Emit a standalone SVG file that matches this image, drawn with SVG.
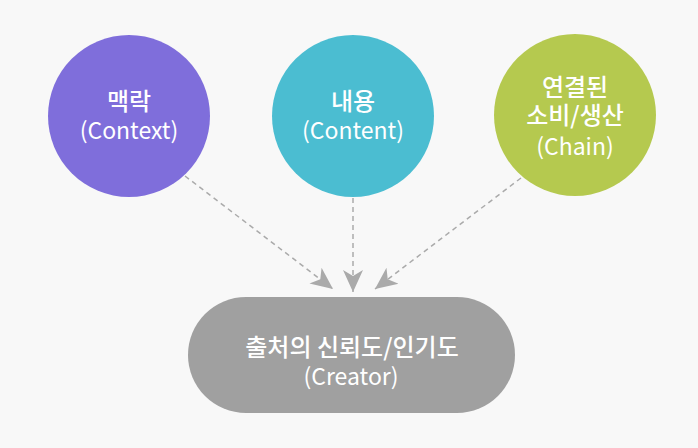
<svg xmlns="http://www.w3.org/2000/svg" width="698" height="448" viewBox="0 0 698 448">
<defs>
<style>
.t{font-family:"Noto Sans CJK KR","Noto Sans",sans-serif;fill:#fff;text-anchor:middle}
.k{font-size:24px;font-weight:500}
.e{font-size:23px;font-weight:400}
.c{fill:none;stroke:#aaaaaa;stroke-width:1.5;stroke-dasharray:5 4}
</style>
<marker id="ah" markerUnits="userSpaceOnUse" markerWidth="24" markerHeight="24" viewBox="0 0 24 24" refX="22" refY="12" orient="auto">
<path d="M0,2 L22,12 L0,22 L6,12 Z" fill="#aaaaaa"/>
</marker>
</defs>
<rect width="698" height="448" fill="#f8f8f8"/>
<g id="connectors">
<line class="c" x1="185" y1="176" x2="333" y2="289" marker-end="url(#ah)"/>
<line class="c" x1="353" y1="198" x2="353" y2="292" marker-end="url(#ah)"/>
<line class="c" x1="521" y1="178" x2="375" y2="289" marker-end="url(#ah)"/>
</g>
<g id="context">
<circle cx="129" cy="116" r="81" fill="#7f6edb"/>
<text class="t k" x="129" y="110">맥락</text>
<text class="t e" x="129" y="139">(Context)</text>
</g>
<g id="content">
<circle cx="353" cy="116" r="81" fill="#4bbdd1"/>
<text class="t k" x="353" y="110">내용</text>
<text class="t e" x="353" y="139">(Content)</text>
</g>
<g id="chain">
<circle cx="575" cy="115" r="81" fill="#b5c94f"/>
<text class="t k" x="575" y="96">연결된</text>
<text class="t k" x="575" y="124">소비/생산</text>
<text class="t e" x="575" y="155">(Chain)</text>
</g>
<g id="creator">
<rect x="188" y="297" width="327" height="116" rx="58" fill="#a0a0a0"/>
<text class="t k" x="352" y="356">출처의 신뢰도/인기도</text>
<text class="t e" x="351" y="385">(Creator)</text>
</g>
</svg>
